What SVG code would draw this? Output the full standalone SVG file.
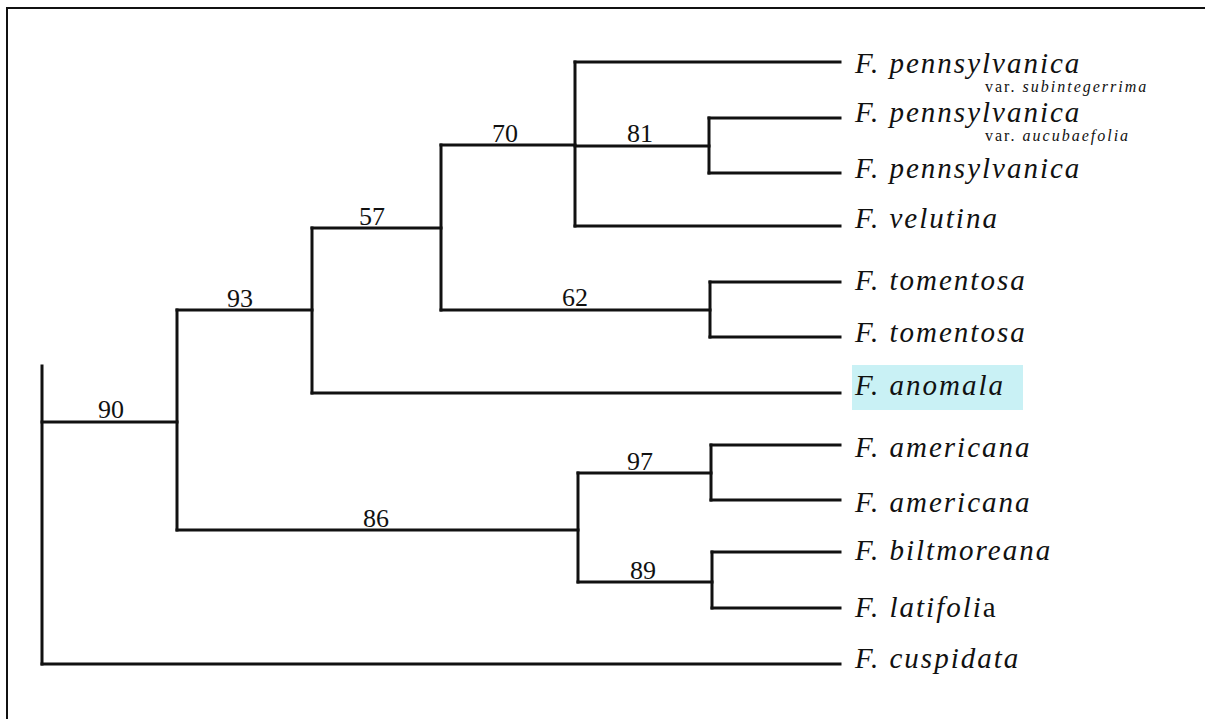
<svg xmlns="http://www.w3.org/2000/svg" width="1205" height="719" viewBox="0 0 1205 719">
<style>
.br{fill:none;stroke:#111;stroke-width:3;stroke-linecap:square}
.sp{font-family:"Liberation Serif",serif;font-style:italic;font-size:29px;letter-spacing:2px;fill:#111}
.var{font-family:"Liberation Serif",serif;font-size:16px;letter-spacing:2px;fill:#111}
.num{font-family:"Liberation Serif",serif;font-size:26px;fill:#111;text-anchor:middle}
</style>
<rect width="1205" height="719" fill="#fff"/>
<path d="M7,719 V8 H1205" fill="none" stroke="#111" stroke-width="2"/>
<g id="connectors" class="br">
<path d="M42,366 V664"/>
<path d="M42,422 H177"/>
<path d="M177,310 V530"/>
<path d="M177,310 H312"/>
<path d="M312,228 V393"/>
<path d="M312,228 H441"/>
<path d="M441,145 V310"/>
<path d="M441,145 H575"/>
<path d="M575,62 V226"/>
<path d="M575,62 H840"/>
<path d="M575,146 H709"/>
<path d="M709,118 V173"/>
<path d="M709,118 H840"/>
<path d="M709,173 H840"/>
<path d="M575,226 H840"/>
<path d="M441,310 H710"/>
<path d="M710,282 V337"/>
<path d="M710,282 H840"/>
<path d="M710,337 H840"/>
<path d="M312,393 H840"/>
<path d="M177,530 H578"/>
<path d="M578,473 V582"/>
<path d="M578,473 H711"/>
<path d="M711,445 V500"/>
<path d="M711,445 H840"/>
<path d="M711,500 H840"/>
<path d="M578,582 H712"/>
<path d="M712,552 V608"/>
<path d="M712,552 H840"/>
<path d="M712,608 H840"/>
<path d="M42,664 H840"/>
</g>
<g id="support">
<text class="num" x="111" y="418">90</text>
<text class="num" x="240" y="307">93</text>
<text class="num" x="372" y="225">57</text>
<text class="num" x="505" y="142">70</text>
<text class="num" x="640" y="142">81</text>
<text class="num" x="575" y="306">62</text>
<text class="num" x="376" y="527">86</text>
<text class="num" x="640" y="470">97</text>
<text class="num" x="643" y="579">89</text>
</g>
<g id="leaf-pen-sub"><text class="sp" x="855" y="73">F. pennsylvanica</text><text class="var" x="985" y="92">var. <tspan font-style="italic">subintegerrima</tspan></text></g>
<g id="leaf-pen-auc"><text class="sp" x="855" y="122">F. pennsylvanica</text><text class="var" x="985" y="141">var. <tspan font-style="italic">aucubaefolia</tspan></text></g>
<g id="leaf-pen"><text class="sp" x="855" y="178">F. pennsylvanica</text></g>
<g id="leaf-vel"><text class="sp" x="855" y="228">F. velutina</text></g>
<g id="leaf-tom1"><text class="sp" x="855" y="290">F. tomentosa</text></g>
<g id="leaf-tom2"><text class="sp" x="855" y="342">F. tomentosa</text></g>
<g id="leaf-ano"><rect x="852" y="365" width="171" height="45" fill="#c9f1f5"/><text class="sp" x="855" y="395">F. anomala</text></g>
<g id="leaf-ame1"><text class="sp" x="855" y="457">F. americana</text></g>
<g id="leaf-ame2"><text class="sp" x="855" y="512">F. americana</text></g>
<g id="leaf-bil"><text class="sp" x="855" y="560">F. biltmoreana</text></g>
<g id="leaf-lat"><text class="sp" x="855" y="617">F. latifoli<tspan font-style="normal">a</tspan></text></g>
<g id="leaf-cus"><text class="sp" x="855" y="668">F. cuspidata</text></g>
</svg>
